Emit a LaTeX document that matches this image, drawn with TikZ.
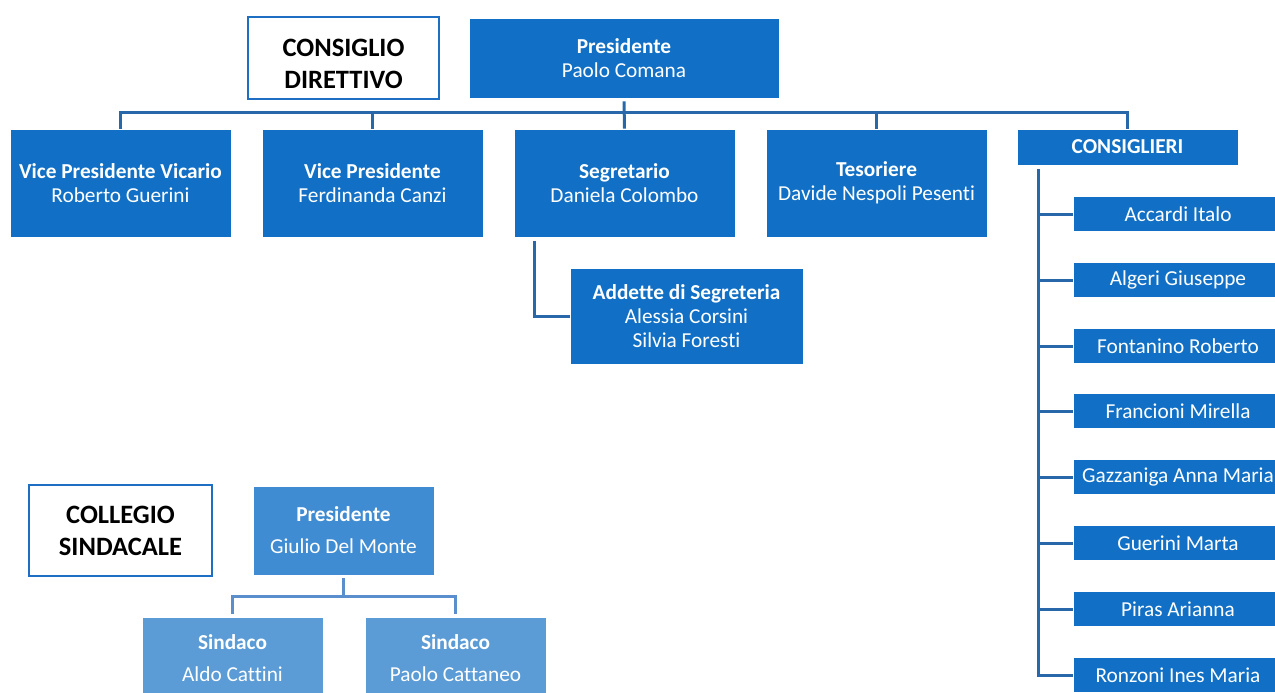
\documentclass[tikz,border=0pt]{standalone}
\usepackage{fontspec}
\setmainfont{Carlito}[Ligatures=NoCommon]
\definecolor{boxblue}{RGB}{17,112,197}
\definecolor{boxmid}{RGB}{64,140,210}
\definecolor{boxlight}{RGB}{92,156,214}
\definecolor{lineblue}{RGB}{40,104,170}
\definecolor{linelight}{RGB}{90,142,204}
\definecolor{frameblue}{RGB}{30,110,195}
\begin{document}
\begin{tikzpicture}[x=1pt,y=-1pt,
  box/.style={fill=boxblue,draw=white,line width=0.6pt,text=white,align=center,inner sep=0pt,
    font=\fontsize{21.3}{24}\selectfont},
  midbox/.style={box,fill=boxmid,font=\fontsize{21.3}{32}\selectfont},
  lightbox/.style={box,fill=boxlight,font=\fontsize{21.3}{32}\selectfont},
  titlebox/.style={draw=frameblue,line width=2.5pt,fill=white,align=center,inner sep=0pt,
    font=\fontsize{26.5}{32}\selectfont\bfseries},
  conn/.style={draw=lineblue,line width=3pt},
  connlight/.style={draw=linelight,line width=2.5pt}]
\useasboundingbox (0,0) rectangle (1275,693);
% Consiglio Direttivo
\node[titlebox,minimum width=191pt,minimum height=82pt] (cd) at (343.5,58)
  {\rule{0pt}{30pt}CONSIGLIO\\DIRETTIVO};
\node[box,minimum width=310pt,minimum height=80pt] (pres) at (624,58) {\textbf{Presidente}\\Paolo Comana};
\node[box,minimum width=221pt,minimum height=108pt] (vpv) at (120.5,183) {\textbf{Vice Presidente Vicario}\\Roberto Guerini};
\node[box,minimum width=221pt,minimum height=108pt] (vp) at (372.5,183) {\textbf{Vice Presidente}\\Ferdinanda Canzi};
\node[box,minimum width=221pt,minimum height=108pt] (seg) at (624.5,183) {\textbf{Segretario}\\Daniela Colombo};
\node[box,minimum width=221pt,minimum height=108pt] (tes) at (876.5,183) {\textbf{Tesoriere}\\Davide Nespoli Pesenti};
\node[box,minimum width=221pt,minimum height=36pt] (cons) at (1127.5,147) {\textbf{CONSIGLIERI}};
\node[box,minimum width=233pt,minimum height=96pt] (add) at (686.5,316) {\textbf{Addette di Segreteria}\\Alessia Corsini\\Silvia Foresti};
% Consiglieri members
\node[box,minimum width=210pt,minimum height=35pt] (c1) at (1178,214) {Accardi Italo};
\node[box,minimum width=210pt,minimum height=35pt] (c2) at (1178,280) {Algeri Giuseppe};
\node[box,minimum width=210pt,minimum height=35pt] (c3) at (1178,346) {Fontanino Roberto};
\node[box,minimum width=210pt,minimum height=35pt] (c4) at (1178,411) {Francioni Mirella};
\node[box,minimum width=210pt,minimum height=35pt] (c5) at (1178,477) {Gazzaniga Anna Maria};
\node[box,minimum width=210pt,minimum height=35pt] (c6) at (1178,543) {Guerini Marta};
\node[box,minimum width=210pt,minimum height=35pt] (c7) at (1178,609) {Piras Arianna};
\node[box,minimum width=210pt,minimum height=35pt] (c8) at (1178,675) {Ronzoni Ines Maria};
% connectors top
\draw[conn] (vpv.north) -- ++(0,-16) -| (cons.north);
\draw[conn] (vp.north) -- ++(0,-16);
\draw[conn] (tes.north) -- ++(0,-16);
\draw[conn] ([yshift=-3pt]pres.south) -- (seg.north);
\draw[conn] ([xshift=21pt,yshift=-4pt]seg.south west) |- (add.west);
\coordinate (trunk) at ([xshift=22pt,yshift=-4pt]cons.south west);
\draw[conn] (trunk) |- (c8.west);
\foreach \c in {c1,c2,c3,c4,c5,c6,c7}{
  \draw[conn] (trunk |- \c.west) -- (\c.west);
}
% Collegio Sindacale
\node[titlebox,minimum width=183pt,minimum height=91pt] (cs) at (120.5,530.5) {COLLEGIO\\SINDACALE};
\node[midbox,minimum width=181pt,minimum height=89pt] (p2) at (343.5,530.5) {\textbf{Presidente}\\Giulio Del Monte};
\node[lightbox,minimum width=181pt,minimum height=82pt] (s1) at (232.5,658) {\textbf{Sindaco}\\Aldo Cattini};
\node[lightbox,minimum width=181pt,minimum height=82pt] (s2) at (455.5,658) {\textbf{Sindaco}\\Paolo Cattaneo};
\draw[connlight] ([yshift=-3pt]p2.south) -- ++(0,18) -| ([yshift=3pt]s1.north);
\draw[connlight] ([yshift=-21pt]p2.south) -| ([yshift=3pt]s2.north);
\end{tikzpicture}
\end{document}
